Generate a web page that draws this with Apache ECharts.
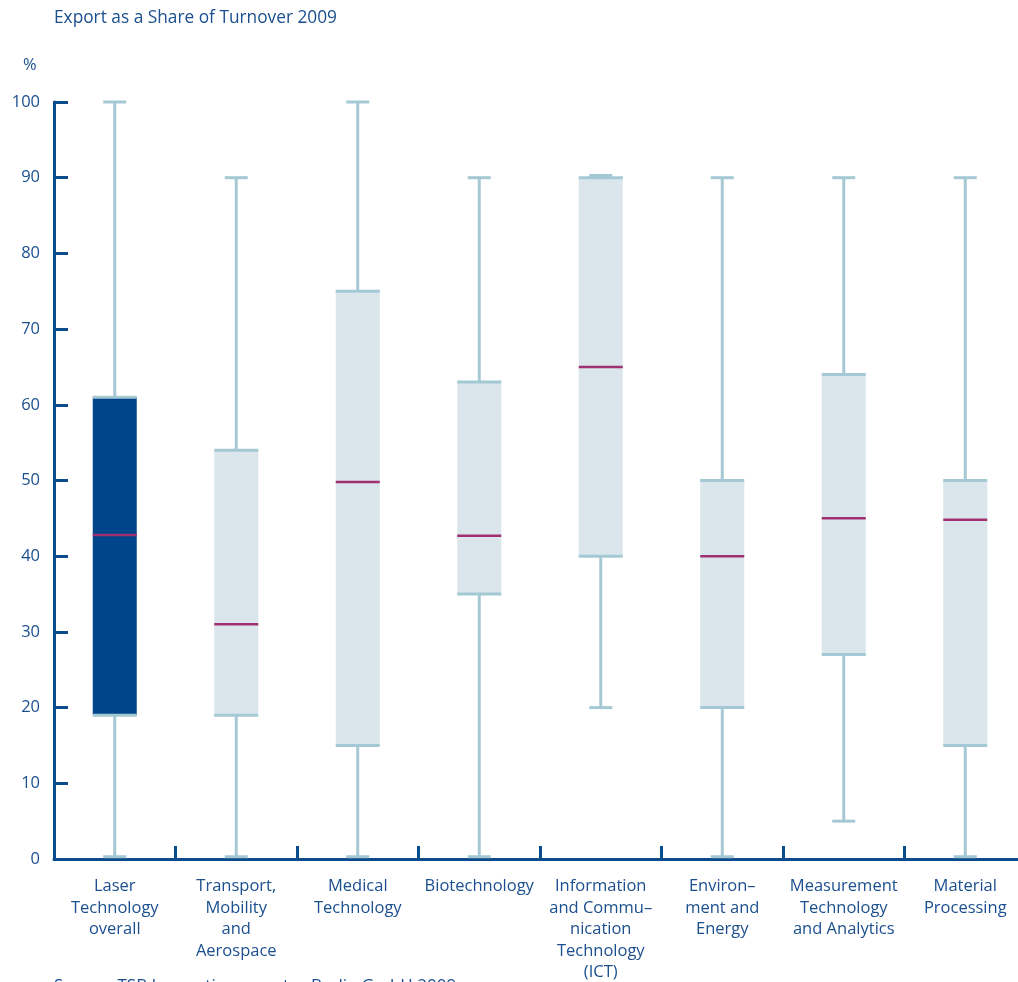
<!DOCTYPE html>
<html>
<head>
<meta charset="utf-8">
<script src="https://cdn.jsdelivr.net/npm/echarts@6/dist/echarts.min.js"></script>
<style>
html,body{margin:0;padding:0;background:#fff;}
#chart{width:1018px;height:982px;}
</style>
</head>
<body>
<div id="chart"></div>
<script>
const categories = [
  "Laser\nTechnology\noverall",
  "Transport,\nMobility\nand\nAerospace",
  "Medical\nTechnology",
  "Biotechnology",
  "Information\nand Commu–\nnication\nTechnology\n(ICT)",
  "Environ–\nment and\nEnergy",
  "Measurement\nTechnology\nand Analytics",
  "Material\nProcessing"
];
const mins    = [0.3, 0.3, 0.3, 0.3, 20, 0.3, 5, 0.3];
const q1s     = [19, 19, 15, 35, 40, 20, 27, 15];
const medians = [42.8, 31, 49.8, 42.7, 65, 40, 45, 44.8];
const q3s     = [61, 54, 75, 63, 90, 50, 64, 50];
const maxs    = [100, 90, 100, 90, 90.3, 90, 90, 90];
const highlight = [true, false, false, false, false, false, false, false];
const yTicks = [0, 10, 20, 30, 40, 50, 60, 70, 80, 90, 100];

const C_AXIS = '#0b4b8c';
const C_TEXT = '#1b4f8e';
const C_WHISK = '#a4c9d4';
const C_BOX = '#dae6ec';
const C_DARK = '#00448a';
const C_MED = '#a0306f';
const FONT = 'Open Sans';

const rows = categories.map((c, i) => [i, mins[i], q1s[i], medians[i], q3s[i], maxs[i], highlight[i] ? 1 : 0]);

const chart = echarts.init(document.getElementById('chart'));
chart.setOption({
  animation: false,
  backgroundColor: '#fff',
  grid: {left: 54, top: 102, width: 972, bottom: 123, containLabel: false, outerBoundsMode: 'none'},
  xAxis: {
    type: 'category',
    data: categories,
    boundaryGap: true,
    axisLine: {show: true, lineStyle: {color: C_AXIS, width: 3}},
    axisTick: {show: true, interval: 0, alignWithLabel: false, inside: true, length: 13, lineStyle: {color: C_AXIS, width: 3}},
    axisLabel: {color: C_TEXT, fontFamily: FONT, fontSize: 16.5, lineHeight: 21.5, margin: 17, interval: 0, align: 'center', hideOverlap: false},
    splitLine: {show: false}
  },
  yAxis: {
    type: 'value',
    min: 0, max: 100, interval: 10,
    axisLine: {show: true, lineStyle: {color: C_AXIS, width: 3}},
    axisTick: {show: true, inside: true, length: 14, lineStyle: {color: C_AXIS, width: 3}},
    axisLabel: {color: C_TEXT, fontFamily: FONT, fontSize: 16.5, margin: 14,
      formatter: v => yTicks.indexOf(v) >= 0 ? String(v) : ''},
    splitLine: {show: false}
  },
  graphic: [
    {type: 'text', left: 54, top: 10, style: {text: 'Export as a Share of Turnover 2009', fill: C_TEXT, font: '17.3px "Open Sans"'}},
    {type: 'text', left: 23, top: 57, style: {text: '%', fill: C_TEXT, font: '16.5px "Open Sans"'}},
    {type: 'text', left: 54, top: 978, style: {text: 'Source: TSB Innovationsagentur Berlin GmbH 2009', fill: C_TEXT, font: '17px "Open Sans"'}}
  ],
  series: [{
    type: 'custom',
    data: rows,
    encode: {x: 0, y: [1, 2, 3, 4, 5]},
    clip: false,
    z: 1,
    renderItem: function (params, api) {
      const idx = api.value(0);
      const pMin = api.coord([idx, api.value(1)]);
      const pQ1 = api.coord([idx, api.value(2)]);
      const pMed = api.coord([idx, api.value(3)]);
      const pQ3 = api.coord([idx, api.value(4)]);
      const pMax = api.coord([idx, api.value(5)]);
      const dark = api.value(6) === 1;
      const cx = pMin[0];
      const bw = 44, cw = 23, lw = 3;
      const children = [];
      children.push({type: 'rect', shape: {x: cx - 1.5, y: pMax[1], width: 3, height: pQ3[1] - pMax[1]}, style: {fill: C_WHISK}});
      children.push({type: 'rect', shape: {x: cx - 1.5, y: pQ1[1], width: 3, height: pMin[1] - pQ1[1]}, style: {fill: C_WHISK}});
      children.push({type: 'rect', shape: {x: cx - cw / 2, y: pMin[1] - 1.5, width: cw, height: lw}, style: {fill: C_WHISK}});
      children.push({type: 'rect', shape: {x: cx - bw / 2, y: pQ3[1], width: bw, height: pQ1[1] - pQ3[1]}, style: {fill: dark ? C_DARK : C_BOX}});
      children.push({type: 'rect', shape: {x: cx - bw / 2, y: pQ3[1] - 1.5, width: bw, height: lw}, style: {fill: C_WHISK}});
      children.push({type: 'rect', shape: {x: cx - bw / 2, y: pQ1[1] - 1.5, width: bw, height: lw}, style: {fill: C_WHISK}});
      children.push({type: 'rect', shape: {x: cx - cw / 2, y: pMax[1] - 1.5, width: cw, height: lw}, style: {fill: C_WHISK}});
      children.push({type: 'rect', shape: {x: cx - bw / 2, y: pMed[1] - 1.25, width: bw, height: 2.5}, style: {fill: C_MED}});
      return {type: 'group', children: children};
    }
  }]
});
</script>
</body>
</html>
